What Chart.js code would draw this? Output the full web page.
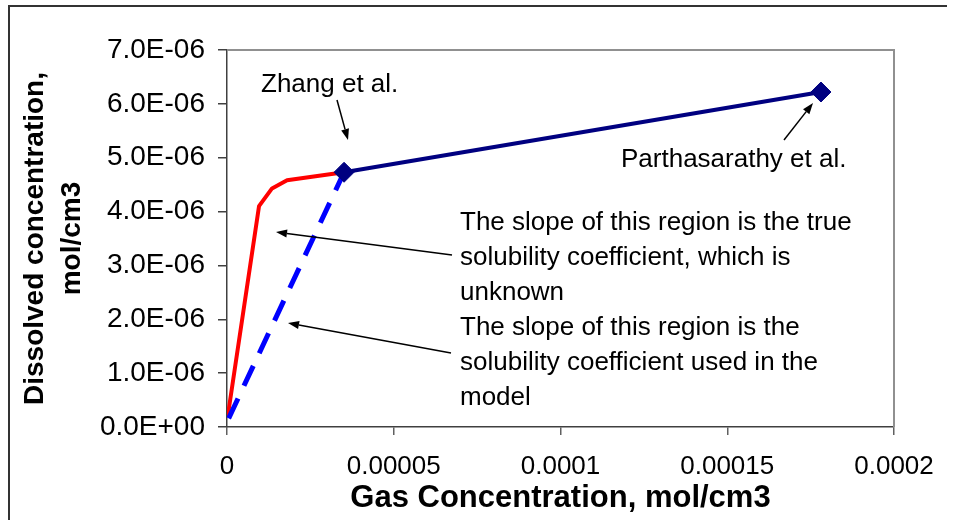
<!DOCTYPE html>
<html><head><meta charset="utf-8">
<script src="https://cdn.jsdelivr.net/npm/chart.js@4/dist/chart.umd.min.js"></script>
<style>html,body{margin:0;padding:0;background:#fff;}#wrap{width:956px;height:520px;position:relative;}</style>
</head><body><div id="wrap"><canvas id="c" width="956" height="520"></canvas></div>
<script>
// ---- data ----
const xTickValues = [0, 0.00005, 0.0001, 0.00015, 0.0002];
const xTickLabels = ['0', '0.00005', '0.0001', '0.00015', '0.0002'];
const yTickValues = [0, 1e-6, 2e-6, 3e-6, 4e-6, 5e-6, 6e-6, 7e-6];
const yTickLabels = ['0.0E+00', '1.0E-06', '2.0E-06', '3.0E-06', '4.0E-06', '5.0E-06', '6.0E-06', '7.0E-06'];

const trueX = [0.0000002, 0.0000096, 0.0000135, 0.000018, 0.0000351];
const trueY = [1.9e-7, 4.10e-6, 4.43e-6, 4.58e-6, 4.73e-6];
const modelX = [0.0000005, 0.0000351];
const modelY = [1.6e-7, 4.73e-6];
const measX = [0.0000351, 0.0001781];
const measY = [4.73e-6, 6.22e-6];
const measNames = ['Zhang et al.', 'Parthasarathy et al.'];

const noteTrue = ['The slope of this region is the true', 'solubility coefficient, which is', 'unknown'];
const noteModel = ['The slope of this region is the', 'solubility coefficient used in the', 'model'];

const xTitle = 'Gas Concentration, mol/cm3';
const yTitle = ['Dissolved concentration,', 'mol/cm3'];

const pts = (xs, ys) => xs.map((x, i) => ({x: x, y: ys[i]}));

const FONT = "'Liberation Sans', Arial, sans-serif";

function arrow(ctx, x1, y1, x2, y2) {
  ctx.save();
  ctx.strokeStyle = '#000'; ctx.fillStyle = '#000'; ctx.lineWidth = 1.5;
  const a = Math.atan2(y2 - y1, x2 - x1);
  const L = 11, W = 4;
  const bx = x2 - L * Math.cos(a), by = y2 - L * Math.sin(a);
  ctx.beginPath(); ctx.moveTo(x1, y1); ctx.lineTo(bx, by); ctx.stroke();
  ctx.beginPath();
  ctx.moveTo(x2, y2);
  ctx.lineTo(bx + W * Math.sin(a), by - W * Math.cos(a));
  ctx.lineTo(bx - W * Math.sin(a), by + W * Math.cos(a));
  ctx.closePath(); ctx.fill();
  ctx.restore();
}

const decor = {
  id: 'decor',
  beforeDatasetsDraw(chart) {
    const {ctx, chartArea: ca} = chart;
    ctx.save();
    ctx.strokeStyle = '#909090'; ctx.lineWidth = 2;
    ctx.beginPath();
    ctx.moveTo(ca.left, ca.top); ctx.lineTo(ca.right, ca.top); ctx.lineTo(ca.right, ca.bottom);
    ctx.stroke();
    ctx.restore();
  },
  afterDraw(chart) {
    const {ctx} = chart;
    ctx.save();
    ctx.strokeStyle = '#333'; ctx.lineWidth = 2;
    ctx.beginPath(); ctx.moveTo(9, 520); ctx.lineTo(9, 6); ctx.lineTo(947, 6); ctx.stroke();

    ctx.fillStyle = '#000';
    ctx.font = '26px ' + FONT;
    ctx.textAlign = 'left'; ctx.textBaseline = 'alphabetic';
    ctx.fillText(measNames[0], 261, 92);
    ctx.fillText(measNames[1], 621, 167);
    noteTrue.forEach((t, i) => ctx.fillText(t, 460, 230 + i * 35));
    noteModel.forEach((t, i) => ctx.fillText(t, 460, 335 + i * 35));
    ctx.restore();

    arrow(ctx, 337, 100, 348, 140);
    arrow(ctx, 784, 140, 813, 103);
    arrow(ctx, 452, 255, 276, 232);
    arrow(ctx, 451, 353, 288, 323);
  }
};

new Chart(document.getElementById('c'), {
  type: 'scatter',
  data: {
    datasets: [
      {
        label: 'Measured', data: pts(measX, measY), showLine: true,
        borderColor: '#000080', backgroundColor: '#000080', borderWidth: 4,
        pointStyle: 'rectRot', pointRadius: 10, pointHoverRadius: 10, pointBorderWidth: 1
      },
      {
        label: 'Model', data: pts(modelX, modelY), showLine: true,
        borderColor: '#0000FF', borderWidth: 5, borderDash: [22, 14], pointRadius: 0
      },
      {
        label: 'True', data: pts(trueX, trueY), showLine: true,
        borderColor: '#FF0000', borderWidth: 4, pointRadius: 0, borderJoinStyle: 'round'
      }
    ]
  },
  options: {
    responsive: false, animation: false, devicePixelRatio: 1,
    layout: {padding: {left: 0, top: 50, right: 62, bottom: 0}},
    plugins: {legend: {display: false}, tooltip: {enabled: false}},
    scales: {
      x: {
        type: 'linear', position: 'bottom', min: 0, max: 0.0002,
        afterBuildTicks: s => { s.ticks = xTickValues.map(v => ({value: v})); },
        afterFit: s => { s.height = 93; },
        ticks: {
          callback: (v, i) => xTickLabels[i], autoSkip: false, maxRotation: 0,
          font: {family: FONT, size: 26}, color: '#000', padding: 16
        },
        grid: {drawOnChartArea: false, drawTicks: true, tickLength: 8, color: '#606060', lineWidth: 1.5},
        border: {color: '#404040', width: 1.5},
        title: {display: true, text: xTitle, color: '#000',
          font: {family: FONT, size: 31, weight: 'bold'}, padding: {top: 0, bottom: 3}}
      },
      y: {
        type: 'linear', position: 'left', min: 0, max: 7e-6,
        afterBuildTicks: s => { s.ticks = yTickValues.map(v => ({value: v})); },
        afterFit: s => { s.width = 227; },
        ticks: {
          callback: (v, i) => yTickLabels[i], autoSkip: false,
          font: {family: FONT, size: 28}, color: '#000', padding: 13
        },
        grid: {drawOnChartArea: false, drawTicks: true, tickLength: 9, color: '#404040', lineWidth: 1.5},
        border: {color: '#404040', width: 1.5},
        title: {display: true, text: yTitle, color: '#000',
          font: {family: FONT, size: 28, weight: 'bold', lineHeight: 1.32}, padding: {top: 16.5, bottom: 0}}
      }
    }
  },
  plugins: [decor]
});
</script>
</body></html>
